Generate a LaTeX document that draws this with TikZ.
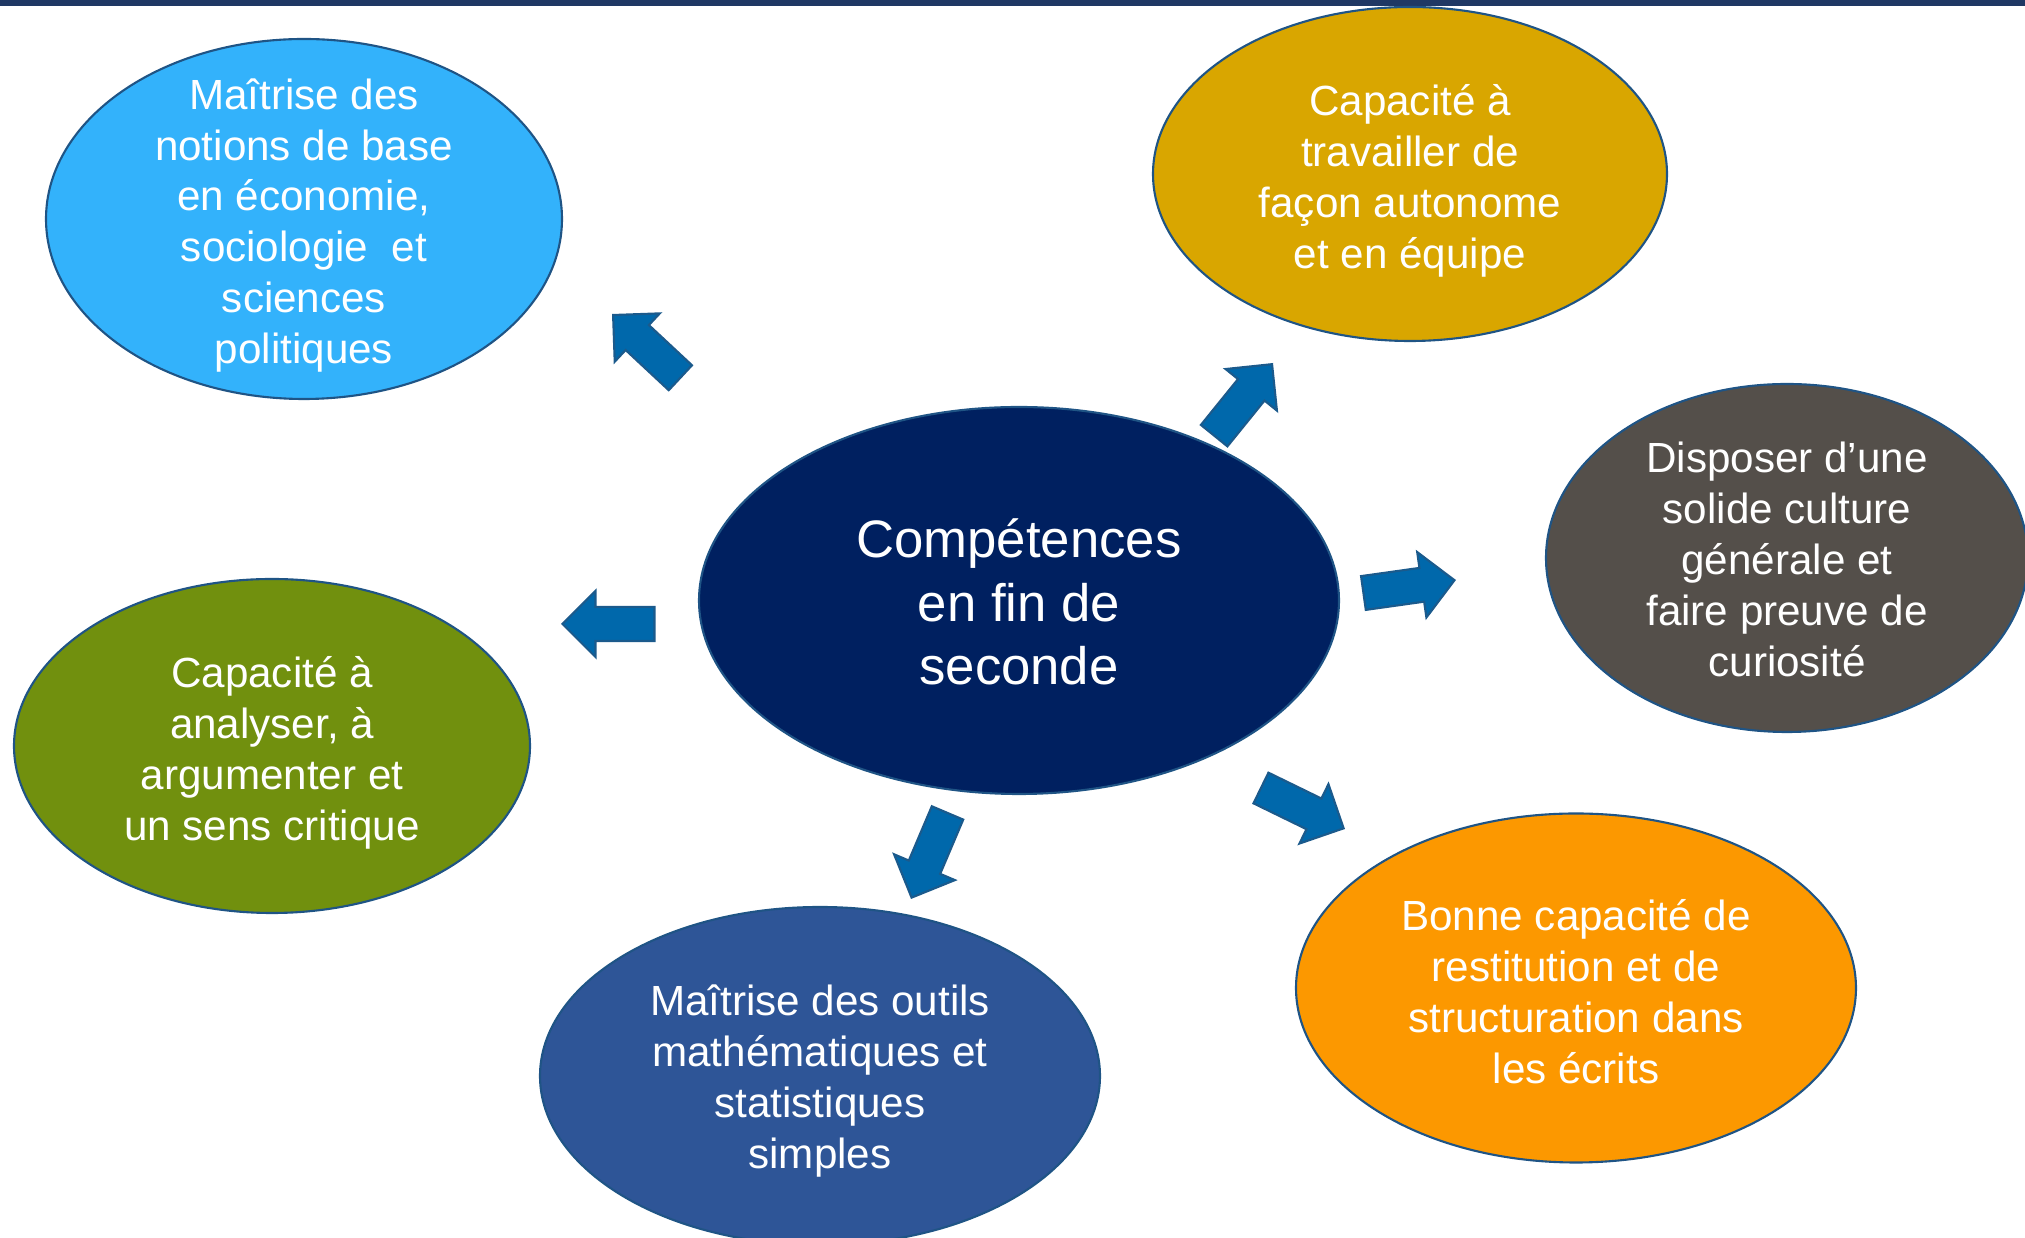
\documentclass[tikz,border=0pt]{standalone}
\usepackage{fontspec}
\setmainfont{Liberation Sans}
\usepackage{tikz}
\usetikzlibrary{shapes,arrows}

\definecolor{bandeau}{HTML}{1F3864}
\definecolor{bordbulle}{HTML}{1F5485}
\definecolor{bleuclair}{HTML}{33B2FB}
\definecolor{dore}{HTML}{D9A600}
\definecolor{marine}{HTML}{002060}
\definecolor{grisfonce}{HTML}{544F4A}
\definecolor{vertolive}{HTML}{71900E}
\definecolor{bleufonce}{HTML}{2E5597}
\definecolor{orangevif}{HTML}{FC9800}
\definecolor{fleche}{HTML}{0068AB}
\definecolor{bordfleche}{HTML}{1B5A8C}

\begin{document}
\begin{tikzpicture}[
  bulle/.style={ellipse, draw=bordbulle, line width=0.6pt, inner sep=0pt},
  texte/.style={text=white, align=center, inner sep=0pt, font=\fontsize{12}{14.5}\selectfont},
  blocfleche/.style={single arrow, draw=bordfleche, fill=fleche, line width=0.6pt,
    inner xsep=0pt, inner ysep=0.16cm, minimum height=0.92cm, single arrow head extend=0.16cm, anchor=tip}
]
\useasboundingbox (0,0) rectangle (20.25,12.38);
\fill[bandeau] (0,12.32) rectangle (20.25,12.38);

\node[bulle, fill=bleuclair, minimum width=5.16cm, minimum height=3.60cm] (economie) at (3.04,10.19) {};
\node[texte] (economie-txt) at ([yshift=-0.065cm]economie.center) {Maîtrise des\\notions de base\\en économie,\\sociologie~~et\\sciences\\politiques};

\node[bulle, fill=dore, minimum width=5.14cm, minimum height=3.34cm] (autonomie) at (14.10,10.64) {};
\node[texte] (autonomie-txt) at ([yshift=-0.065cm]autonomie.center) {Capacité à\\travailler de\\façon autonome\\et en équipe};

\node[bulle, fill=marine, minimum width=6.40cm, minimum height=3.87cm] (centre) at (10.19,6.375) {};
\node[texte, font=\fontsize{15}{18}\selectfont] (centre-txt) at ([yshift=-0.015cm]centre.center) {Compétences\\en fin de\\seconde};

\node[bulle, fill=grisfonce, minimum width=4.82cm, minimum height=3.48cm] (culture) at (17.87,6.80) {};
\node[texte] (culture-txt) at ([yshift=-0.015cm]culture.center) {Disposer d’une\\solide culture\\générale et\\faire preuve de\\curiosité};

\node[bulle, fill=vertolive, minimum width=5.16cm, minimum height=3.34cm] (analyse) at (2.72,4.92) {};
\node[texte] (analyse-txt) at ([yshift=-0.065cm]analyse.center) {Capacité à\\analyser, à\\argumenter et\\un sens critique};

\node[bulle, fill=bleufonce, minimum width=5.60cm, minimum height=3.38cm] (outils) at (8.20,1.62) {};
\node[texte] (outils-txt) at ([yshift=-0.05cm]outils.center) {Maîtrise des outils\\mathématiques et\\statistiques\\simples};

\node[bulle, fill=orangevif, minimum width=5.60cm, minimum height=3.49cm] (ecrits) at (15.76,2.50) {};
\node[texte] (ecrits-txt) at ([yshift=-0.04cm]ecrits.center) {Bonne capacité de\\restitution et de\\structuration dans\\les écrits};

\node[blocfleche, rotate=137] (f-economie) at (6.12,9.24) {};
\node[blocfleche, rotate=51] (f-autonomie) at (12.73,8.75) {};
\node[blocfleche, rotate=8] (f-culture) at (14.56,6.58) {};
\node[blocfleche, rotate=180] (f-analyse) at (5.61,6.14) {};
\node[blocfleche, rotate=-26] (f-ecrits) at (13.45,4.09) {};
\node[blocfleche, rotate=-113] (f-outils) at (9.11,3.39) {};

\end{tikzpicture}
\end{document}
